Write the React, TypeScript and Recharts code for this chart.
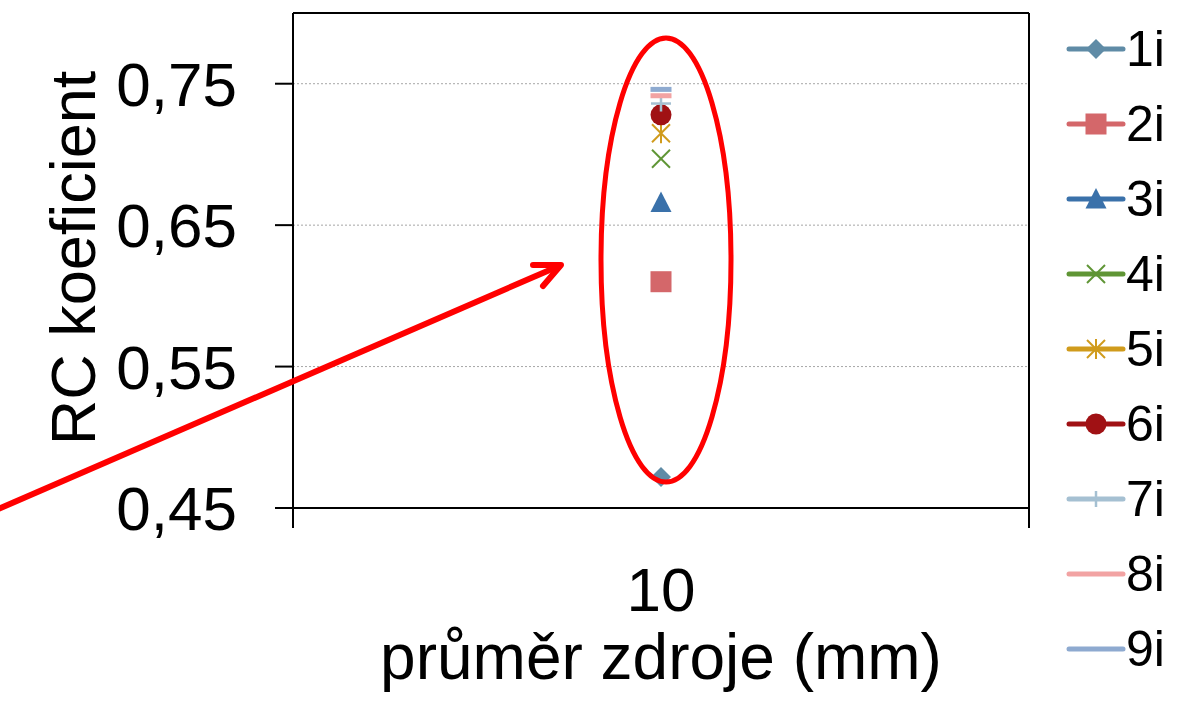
import React from 'react';
import {
  ComposedChart,
  Line,
  XAxis,
  YAxis,
  CartesianGrid,
  ReferenceLine,
  Label,
} from 'recharts';

// source diameter categories (mm)
const categories = ['10'];
const categoryPos = [1];

// RC coefficient per measurement series
const seriesNames = ['1i', '2i', '3i', '4i', '5i', '6i', '7i', '8i', '9i'];
const seriesValues = [0.472, 0.61, 0.666, 0.697, 0.715, 0.728, 0.736, 0.7415, 0.746];
const seriesColors = [
  '#5f8ba6',
  '#d4676a',
  '#3a71aa',
  '#5f9535',
  '#d09b1c',
  '#a01114',
  '#a5c0d2',
  '#f2a3a3',
  '#8eaad0',
];
const seriesMarkers = ['diamond', 'square', 'triangle', 'x', 'star', 'circle', 'plus', 'dash', 'dash'];

const yTicks = [0.45, 0.55, 0.65, 0.75];

const FONT = '"Liberation Sans", Arial, sans-serif';

const data = categoryPos.map((pos) => {
  const row: Record<string, number> = { pos };
  seriesNames.forEach((name, s) => {
    row[name] = seriesValues[s];
  });
  return row;
});

function Marker({ kind, cx, cy, color }: { kind: string; cx: number; cy: number; color: string }) {
  switch (kind) {
    case 'diamond':
      return <polygon points={`${cx},${cy - 10} ${cx + 10},${cy} ${cx},${cy + 10} ${cx - 10},${cy}`} fill={color} />;
    case 'square':
      return <rect x={cx - 10.5} y={cy - 10.5} width={21} height={21} fill={color} />;
    case 'triangle':
      return <polygon points={`${cx},${cy - 11} ${cx + 10.5},${cy + 9.5} ${cx - 10.5},${cy + 9.5}`} fill={color} />;
    case 'x':
      return (
        <g stroke={color} strokeWidth={2}>
          <line x1={cx - 9} y1={cy - 9} x2={cx + 9} y2={cy + 9} />
          <line x1={cx - 9} y1={cy + 9} x2={cx + 9} y2={cy - 9} />
        </g>
      );
    case 'star':
      return (
        <g stroke={color} strokeWidth={2}>
          <line x1={cx - 9} y1={cy - 9} x2={cx + 9} y2={cy + 9} />
          <line x1={cx - 9} y1={cy + 9} x2={cx + 9} y2={cy - 9} />
          <line x1={cx} y1={cy - 10} x2={cx} y2={cy + 10} />
        </g>
      );
    case 'circle':
      return <circle cx={cx} cy={cy} r={10.5} fill={color} />;
    case 'plus':
      return (
        <g stroke={color} strokeWidth={2.5}>
          <line x1={cx - 10} y1={cy} x2={cx + 10} y2={cy} />
          <line x1={cx} y1={cy - 8} x2={cx} y2={cy + 8} />
        </g>
      );
    case 'dash':
      return <rect x={cx - 10.5} y={cy - 2.5} width={21} height={5} fill={color} />;
    default:
      return null;
  }
}

// category label in the middle, tick marks only at the plot edges
function XTick(props: any) {
  const { x, y, payload } = props;
  const v = payload.value;
  const idx = categoryPos.indexOf(v);
  if (idx >= 0) {
    return (
      <text x={x} y={y + 103} textAnchor="middle" fontSize={62} fontFamily={FONT} fill="#000">
        {categories[idx]}
      </text>
    );
  }
  return <line x1={x} y1={y} x2={x} y2={y + 20} stroke="#000" strokeWidth={2} />;
}

function SeriesLegend() {
  return (
    <div style={{ position: 'absolute', left: 1066, top: 11, fontFamily: FONT }}>
      {seriesNames.map((name, i) => (
        <div key={name} style={{ height: 75, display: 'flex', alignItems: 'center' }}>
          <svg width={62} height={30}>
            <line x1={3} y1={15} x2={57} y2={15} stroke={seriesColors[i]} strokeWidth={5} strokeLinecap="round" />
            {seriesMarkers[i] !== 'dash' && <Marker kind={seriesMarkers[i]} cx={30} cy={15} color={seriesColors[i]} />}
          </svg>
          <span style={{ fontSize: 50, lineHeight: '50px', color: '#000', marginLeft: -2 }}>{name}</span>
        </div>
      ))}
    </div>
  );
}

export default function App() {
  return (
    <div style={{ position: 'absolute', left: 0, top: 0, width: 1185, height: 704, background: '#fff' }}>
      <ComposedChart
        width={1185}
        height={704}
        data={data}
        margin={{ top: 13, right: 156, bottom: 0, left: 0 }}
      >
        <CartesianGrid horizontal vertical={false} stroke="#a6a6a6" strokeDasharray="2 2" />
        <XAxis
          dataKey="pos"
          type="number"
          domain={[0.5, 1.5]}
          ticks={[0.5, ...categoryPos, 1.5]}
          height={196}
          tickSize={0}
          tickMargin={0}
          tickLine={false}
          axisLine={{ stroke: '#000', strokeWidth: 2 }}
          tick={<XTick />}
          interval={0}
        >
          <Label
            content={(p: any) => (
              <text
                x={p.viewBox.x + p.viewBox.width / 2}
                y={p.viewBox.y + 171}
                textAnchor="middle"
                fontSize={64}
                fontFamily={FONT}
                fill="#000"
              >
                průměr zdroje (mm)
              </text>
            )}
          />
        </XAxis>
        <YAxis
          type="number"
          domain={[0.45, 0.8]}
          ticks={yTicks}
          width={293}
          tickSize={18}
          tickMargin={38}
          interval={0}
          tickFormatter={(v: number) => v.toFixed(2).replace('.', ',')}
          tick={{ fontSize: 62, fontFamily: FONT, fill: '#000' }}
          axisLine={{ stroke: '#000', strokeWidth: 2 }}
          tickLine={{ stroke: '#000', strokeWidth: 2 }}
        >
          <Label
            content={() => (
              <text
                x={73}
                y={258}
                transform="rotate(-90, 73, 258)"
                textAnchor="middle"
                dominantBaseline="central"
                fontSize={63}
                fontFamily={FONT}
                fill="#000"
              >
                RC koeficient
              </text>
            )}
          />
        </YAxis>
        <ReferenceLine y={0.8} stroke="#000" strokeWidth={2} />
        <ReferenceLine x={1.5} stroke="#000" strokeWidth={2} />
        {seriesNames.map((name, i) => (
          <Line
            key={name}
            dataKey={name}
            stroke="none"
            isAnimationActive={false}
            activeDot={false}
            legendType="none"
            dot={(p: any) => (
              <Marker key={`${name}-${p.index}`} kind={seriesMarkers[i]} cx={p.cx} cy={p.cy} color={seriesColors[i]} />
            )}
          />
        ))}
      </ComposedChart>
      <SeriesLegend />
      {/* highlight ring and pointer arrow */}
      <svg
        width={1185}
        height={704}
        style={{ position: 'absolute', left: 0, top: 0, pointerEvents: 'none' }}
      >
        <ellipse cx={666} cy={260} rx={65} ry={222} fill="none" stroke="#ff0000" strokeWidth={5} />
        <line x1={-4} y1={510} x2={559} y2={266} stroke="#ff0000" strokeWidth={6} />
        <polyline
          points="533,265 561,265 543,286"
          fill="none"
          stroke="#ff0000"
          strokeWidth={6}
          strokeLinecap="round"
          strokeLinejoin="round"
        />
      </svg>
    </div>
  );
}
